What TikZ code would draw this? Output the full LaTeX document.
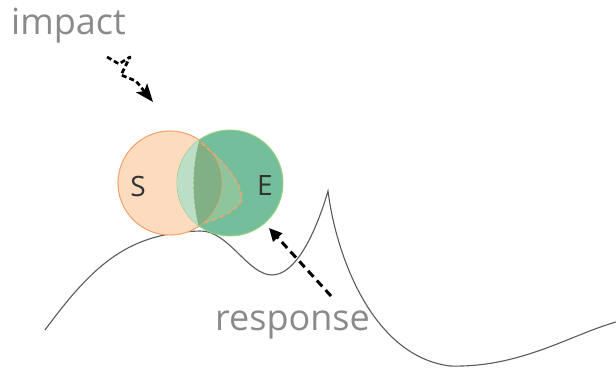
\documentclass[tikz,border=0pt]{standalone}
\usepackage{fontspec}
\setmainfont{Open Sans}
\usetikzlibrary{arrows.meta}
\definecolor{txtgrey}{HTML}{8A8A8A}
\definecolor{orfill}{HTML}{FCDBBF}
\definecolor{ordraw}{HTML}{F2A46E}
\definecolor{grfill}{HTML}{74BE9B}
\definecolor{grdraw}{HTML}{96D382}
\definecolor{lensdark}{HTML}{80B083}
\definecolor{lenslight}{HTML}{BCDDC6}
\definecolor{lensmid}{HTML}{8EC59C}
\definecolor{curvegrey}{HTML}{5A5A5A}
\tikzset{
  bigword/.style={font=\fontsize{36}{36}\selectfont, text=txtgrey, inner sep=0pt, anchor=base west},
  letter/.style={font=\fontsize{28}{28}\selectfont, text=black!80, inner sep=0pt},
  setcircle/.style={circle, inner sep=0pt, minimum size=#1},
  landscape/.style={draw=curvegrey, line width=1.1pt},
  bigarrow/.style={draw=black, line width=3pt, dash pattern=on 8pt off 5pt, -{Triangle[length=13pt,width=12pt]}},
  zigarrow/.style={draw=black, line width=2.7pt, dash pattern=on 5pt off 3pt, line join=round, -{Stealth[length=18pt,width=14pt,inset=4pt]}},
}
\begin{document}
\begin{tikzpicture}[x=1pt,y=-1pt]
\useasboundingbox (0,0) rectangle (616,369);

% landscape curve
\draw[landscape] (45,330) .. controls (95,262) and (130,233) .. (200,231)
  .. controls (228,230) and (248,275) .. (272,275)
  .. controls (296,275) and (316,232) .. (328,191)
  .. controls (336,255) and (372,356) .. (450,366)
  .. controls (520,368) and (570,335) .. (616,322);

% circles
\node[setcircle=104pt, fill=orfill, draw=ordraw, line width=0.9pt] (S) at (170,183) {};
\node[setcircle=106pt, fill=grfill, draw=grdraw, line width=0.9pt] (E) at (230,183) {};

% orange dashed region fill
\fill[lensmid] (201,142) .. controls (225,163) and (241,180) .. (242,200)
  .. controls (236,212) and (216,220) .. (202,224) -- (220,183) -- cycle;
% lens
\begin{scope}
  \clip (S.center) circle (52pt);
  \fill[lensdark] (E.center) circle (53pt);
  \clip (E.center) circle (53pt);
  \fill[lenslight] (200,138) .. controls (192,165) and (192,200) .. (199,228) -- (150,228) -- (150,138) -- cycle;
\end{scope}
% S border inside E
\draw[ordraw, opacity=0.6, line width=0.8pt] (S.center) circle (52pt);
% dashed boundaries
\draw[grdraw!80!black!90, line width=1pt, dash pattern=on 3pt off 2pt] (200,142) .. controls (192,165) and (192,200) .. (199,224);
\draw[ordraw, line width=1.4pt, dash pattern=on 5pt off 3pt] (201,143) .. controls (225,163) and (241,180) .. (242,200)
  .. controls (236,212) and (216,220) .. (202,223);

% letters
\node[letter] (Slab) at (138,186) {S};
\node[letter] (Elab) at (265,186) {E};

% texts
\node[bigword] (impact) at (11,35) {impact};
\node[bigword] (response) at (215,330) {response};

% impact zigzag arrow
\coordinate (zs) at (107,57);
\coordinate (ze) at (153,102);
\draw[zigarrow] (zs) -- (119,64) -- (130,57) -- (121,75) -- (136,81) -- (ze);

% response arrow
\coordinate (rs) at (331,296);
\coordinate (re) at (269,228);
\draw[bigarrow] (rs) -- (re);
\end{tikzpicture}
\end{document}
